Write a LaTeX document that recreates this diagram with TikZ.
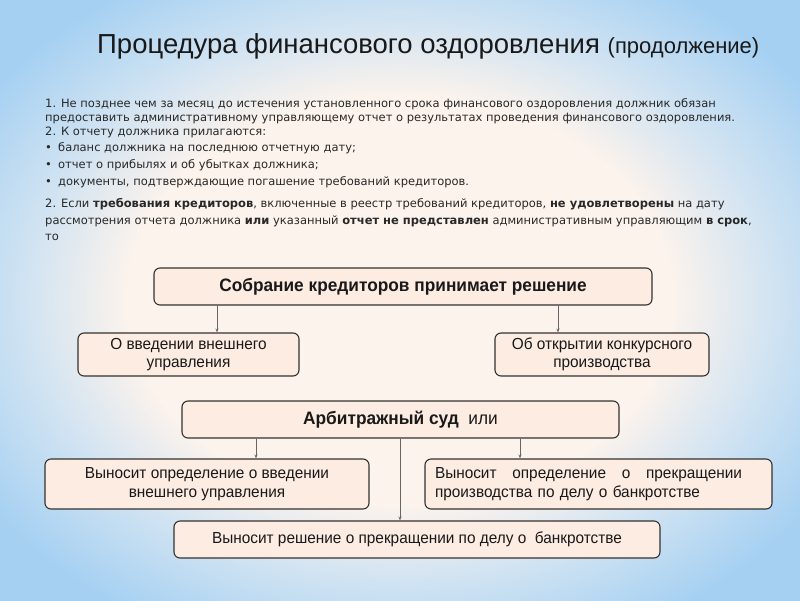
\documentclass[tikz,border=0pt]{standalone}
\usepackage{fontspec}
\setmainfont{Liberation Sans}
\newfontfamily\titlef{Liberation Sans}
\newfontfamily\bodyf{DejaVu Sans}
\newfontfamily\boxf[FakeStretch=0.96]{Liberation Sans}
\usetikzlibrary{arrows.meta}
\definecolor{bgblue}{RGB}{165,208,242}
\definecolor{bgmid}{RGB}{208,227,242}
\definecolor{bgcream}{RGB}{252,243,236}
\definecolor{boxfill}{RGB}{253,236,226}
\definecolor{boxline}{RGB}{50,50,50}
\definecolor{txt}{RGB}{25,25,25}
\definecolor{bodytxt}{RGB}{40,40,40}
\pgfdeclareradialshading{bgshade}{\pgfpoint{0bp}{0bp}}{color(0bp)=(bgcream); color(17bp)=(bgcream); color(23.5bp)=(bgmid); color(31bp)=(bgblue); color(50bp)=(bgblue)}
\tikzset{
 box/.style={draw=boxline, line width=1.1pt, fill=boxfill, rounded corners=6pt, inner sep=0pt, text=txt, font=\boxf\fontsize{16}{18.5}\selectfont, align=center},
 bline/.style={anchor=base west, inner sep=0pt, text=bodytxt, font=\bodyf\fontsize{11.5}{13}\selectfont},
 arr/.style={draw=black!60, line width=0.8pt, -{Stealth[length=4pt,width=3pt]}},
}
\begin{document}
\begin{tikzpicture}[x=1pt,y=-1pt]
\useasboundingbox (0,0) rectangle (800,600);
\shade[shading=bgshade] (0,0) rectangle (800,600);

% title
\node[anchor=base west, inner sep=0pt, text=txt, font=\titlef\fontsize{27.5}{30}\selectfont] (title) at (97,53)
 {Процедура финансового оздоровления \fontsize{22}{24}\selectfont(продолжение)};

% body text
\node[bline] (t1) at (45,107) {1. Не позднее чем за месяц до истечения установленного срока финансового оздоровления должник обязан};
\node[bline] (t2) at (45,121) {предоставить административному управляющему отчет о результатах проведения финансового оздоровления.};
\node[bline] (t3) at (45,135) {2. К отчету должника прилагаются:};
\node[bline] (d1) at (45,151) {•};
\node[bline] (t4) at (58,151) {баланс должника на последнюю отчетную дату;};
\node[bline] (d2) at (45,168) {•};
\node[bline] (t5) at (58,168) {отчет о прибылях и об убытках должника;};
\node[bline] (d3) at (45,185) {•};
\node[bline] (t6) at (58,185) {документы, подтверждающие погашение требований кредиторов.};
\node[bline] (t7) at (45,207) {2. Если \textbf{требования кредиторов}, включенные в реестр требований кредиторов, \textbf{не удовлетворены} на дату};
\node[bline] (t8) at (45,224) {рассмотрения отчета должника \textbf{или} указанный \textbf{отчет не представлен} административным управляющим \textbf{в срок},};
\node[bline] (t9) at (45,240) {то};

% boxes
\node[box, minimum width=498pt, minimum height=37pt, font=\boxf\bfseries\fontsize{18}{20}\selectfont] (b1) at (403,286.5) {Собрание кредиторов принимает решение};
\node[box, minimum width=221pt, minimum height=43pt] (b2) at (188.5,354.5) {О введении внешнего\\управления};
\node[box, minimum width=214pt, minimum height=43pt] (b3) at (602,354.5) {Об открытии конкурсного\\производства};
\node[box, minimum width=437pt, minimum height=37pt, font=\boxf\fontsize{18}{20}\selectfont] (b4) at (400.5,419.5) {\textbf{Арбитражный суд}\ \ или};
\node[box, minimum width=324pt, minimum height=50pt] (b5) at (207,484) {Выносит определение о введении\\внешнего управления};
\node[box, minimum width=347pt, minimum height=50pt, text width=327pt, inner xsep=10pt, align=left] (b6) at (598.5,484) {\hbox to 307pt{Выносит\hfill определение\hfill о\hfill прекращении}\\производства по делу о банкротстве};
\node[box, minimum width=486pt, minimum height=37pt] (b7) at (417,539.5) {Выносит решение о прекращении по делу о\ \ банкротстве};

% connectors
\coordinate (ax1) at (217,0);
\coordinate (ax2) at (558,0);
\coordinate (ax3) at (256,0);
\coordinate (ax4) at (400,0);
\coordinate (ax5) at (520,0);
\draw[arr] (b1.south -| ax1) -- (b2.north -| ax1);
\draw[arr] (b1.south -| ax2) -- (b3.north -| ax2);
\draw[arr] (b4.south -| ax3) -- (b5.north -| ax3);
\draw[arr] (b4.south -| ax4) -- (b7.north -| ax4);
\draw[arr] (b4.south -| ax5) -- (b6.north -| ax5);
\end{tikzpicture}
\end{document}
